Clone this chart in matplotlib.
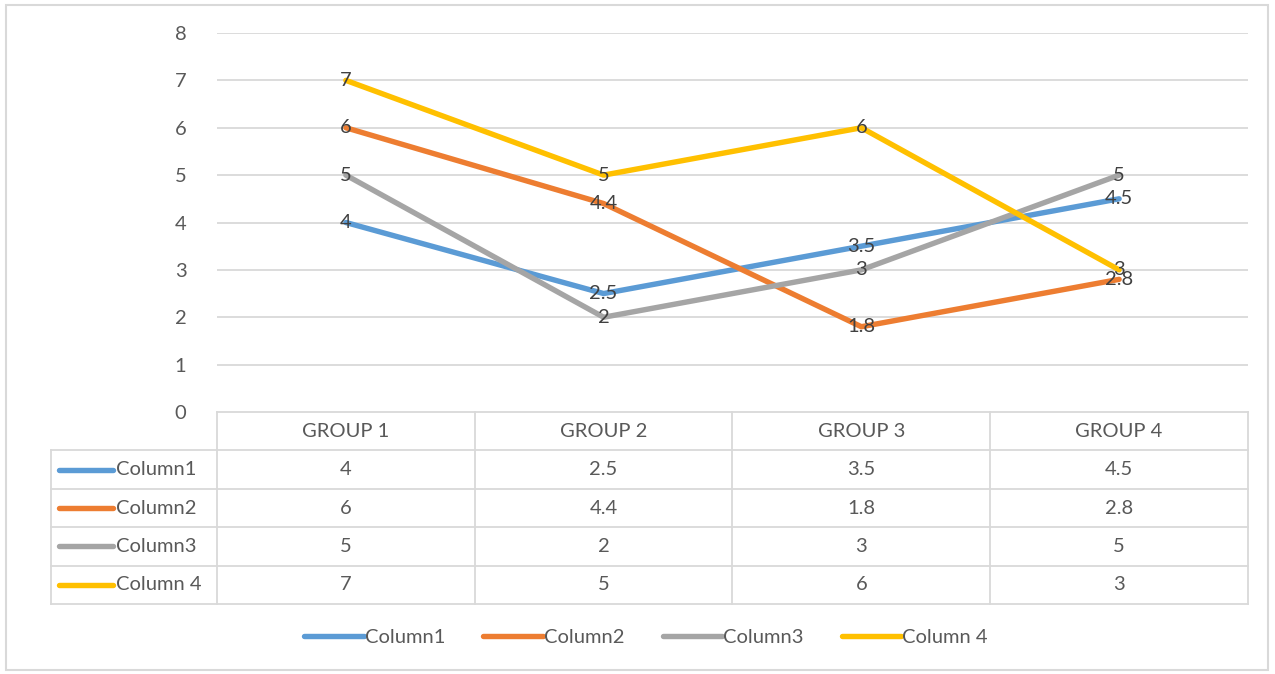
import matplotlib
matplotlib.use("Agg")
import matplotlib.pyplot as plt
from matplotlib.lines import Line2D
from matplotlib.patches import Rectangle

plt.rcParams['font.family'] = ['Lato', 'DejaVu Sans']

groups = ["GROUP 1", "GROUP 2", "GROUP 3", "GROUP 4"]
series_names = ["Column1", "Column2", "Column3", "Column 4"]
column1 = [4, 2.5, 3.5, 4.5]
column2 = [6, 4.4, 1.8, 2.8]
column3 = [5, 2, 3, 5]
column4 = [7, 5, 6, 3]
series_values = [column1, column2, column3, column4]
colors = ["#5B9BD5", "#ED7D31", "#A5A5A5", "#FFC000"]
y_ticks = [0, 1, 2, 3, 4, 5, 6, 7, 8]

W, H = 1275, 674
fig = plt.figure(figsize=(W / 100, H / 100), dpi=100)


def box(x0, y0, x1, y1):
    """Pixel box (top-left origin) to figure fraction rect."""
    return [x0 / W, 1 - y1 / H, (x1 - x0) / W, (y1 - y0) / H]


# chart frame
fig.patches.append(Rectangle((6 / W, 1 - 670 / H), 1262 / W, 665 / H,
                             transform=fig.transFigure, fill=False,
                             edgecolor="#D9D9D9", linewidth=1.5))

grid_c = "#D9D9D9"
text_c = "#595959"
label_c = "#404040"
fs = 14.5

# plot area
ax = fig.add_axes(box(217, 33, 1248, 412))
x = list(range(len(groups)))
for vals, col in zip(series_values, colors):
    ax.plot(x, vals, color=col, linewidth=3.9, solid_capstyle="round", zorder=3)
for vals in series_values:
    for xi, v in zip(x, vals):
        ax.text(xi, v, f"{v:g}", ha="center", va="center", fontsize=fs,
                color=label_c, zorder=4)
ax.set_xlim(-0.5, 3.5)
ax.set_ylim(0, 8)
ax.set_yticks(y_ticks)
ax.set_yticklabels([str(t) for t in y_ticks], fontsize=fs, color=text_c)
ax.tick_params(axis="y", length=0, pad=22)
ax.set_xticks([])
for t in y_ticks[1:]:
    ax.axhline(t, color=grid_c, linewidth=1.3, zorder=1)
for s in ax.spines.values():
    s.set_visible(False)

# data table
px_per_unit = (1248 - 217) / 4
left_units = (217 - 51) / px_per_unit
tab = fig.add_axes(box(51, 412, 1248, 604))
tab.set_xlim(-0.5 - left_units, 3.5)
tab.set_ylim(5, 0)
tab.axis("off")
lw = 1.3
xl = -0.5 - left_units
# horizontal rules
tab.plot([-0.5, 3.5], [0, 0], color=grid_c, lw=lw, clip_on=False)
for r in range(1, 6):
    tab.plot([xl, 3.5], [r, r], color=grid_c, lw=lw, clip_on=False)
# vertical rules
for c in range(5):
    tab.plot([c - 0.5, c - 0.5], [0, 5], color=grid_c, lw=lw, clip_on=False)
tab.plot([xl, xl], [1, 5], color=grid_c, lw=lw, clip_on=False)

for c, g in enumerate(groups):
    tab.text(c, 0.5, g, ha="center", va="center", fontsize=fs, color=text_c)
key_len = (113 - 59) / px_per_unit
key_x0 = xl + (59 - 51) / px_per_unit
for r, (name, vals, col) in enumerate(zip(series_names, series_values, colors)):
    yc = r + 1.5
    tab.plot([key_x0, key_x0 + key_len], [yc, yc], color=col, lw=3.9,
             solid_capstyle="round", clip_on=False)
    tab.text(key_x0 + key_len + 3 / px_per_unit, yc, name, ha="left",
             va="center", fontsize=fs, color=text_c)
    for c, v in enumerate(vals):
        tab.text(c, yc, f"{v:g}", ha="center", va="center", fontsize=fs,
                 color=text_c)

# legend
handles = [Line2D([0], [0], color=col, lw=3.9, solid_capstyle="round")
           for col in colors]
fig.legend(handles, series_names, loc="center", ncol=4,
           bbox_to_anchor=(646 / W, 1 - 637 / H), frameon=False,
           fontsize=fs, labelcolor=text_c, handlelength=2.95,
           handletextpad=0.05, columnspacing=1.9)

fig.savefig("out.png", dpi=100)
